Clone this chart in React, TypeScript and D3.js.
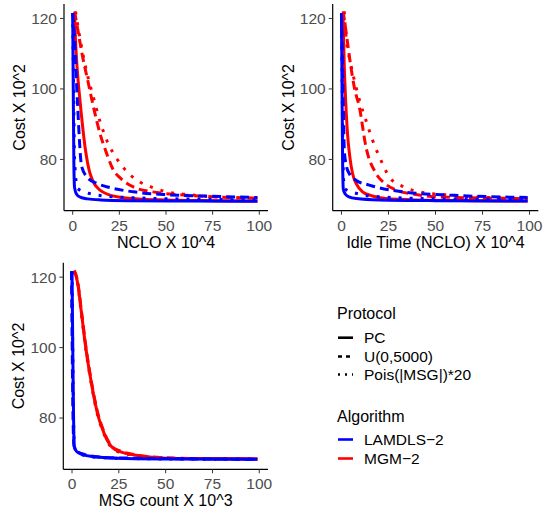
import React from "react";
import * as d3 from "d3";

// ---------- DATA ----------
const xTicks = [0, 25, 50, 75, 100];
const yTicks = [80, 100, 120];
const protocols = ["PC", "U(0,5000)", "Pois(|MSG|)*20"];
const algorithms = ["LAMDLS\u22122", "MGM\u22122"];
const panelTitles = ["NCLO X 10^4", "Idle Time (NCLO) X 10^4", "MSG count X 10^3"];

// Panel 1: NCLO
const nclo_lam_pc_x = [0, 0.3, 0.6, 1, 2, 4, 8, 15, 30, 60, 99];
const nclo_lam_pc_y = [121.5, 100, 80, 72, 70.2, 69.3, 68.8, 68.5, 68.3, 68.2, 68.1];
const nclo_lam_u_x = [0, 1, 2.5, 4.8, 8, 12.9, 20, 32.5, 50, 70, 99];
const nclo_lam_u_y = [121.5, 114, 96.8, 78, 74.8, 73.2, 72, 70.8, 70, 69.6, 69.2];
const nclo_lam_p_x = [0, 0.5, 1, 2.5, 8.4, 20, 40, 70, 99];
const nclo_lam_p_y = [121.5, 100, 80, 71.8, 70.4, 69.5, 69, 68.7, 68.5];
const nclo_mgm_pc_x = [1, 1.5, 2.5, 3.9, 6.6, 9.3, 14.6, 23.6, 35, 50, 75, 99];
const nclo_mgm_pc_y = [121.5, 114, 105, 96.8, 83.6, 76, 71.3, 69.4, 68.8, 68.5, 68.3, 68.2];
const nclo_mgm_u_x = [1, 3, 5, 8.4, 11.5, 14.6, 18, 21.8, 26, 32.5, 45, 59.3, 80, 99];
const nclo_mgm_u_y = [122, 116, 110, 101.6, 94, 87.4, 82, 77, 74.5, 72.2, 70.6, 69.9, 69.3, 69];
const nclo_mgm_p_x = [1.5, 4, 7, 11, 14.5, 18.2, 21.5, 25.4, 30, 36, 43, 50.4, 62, 77, 99];
const nclo_mgm_p_y = [122, 114, 106, 97.8, 91, 85.5, 82, 78.9, 76, 73.6, 72, 70.8, 70, 69.4, 69];

// Panel 2: Idle time
const idle_lam_pc_x = [0, 0.3, 0.6, 1, 2, 4, 8, 20, 50, 99];
const idle_lam_pc_y = [121.5, 100, 80, 71.5, 70.2, 69.4, 68.9, 68.5, 68.3, 68.2];
const idle_lam_u_x = [0, 0.5, 1, 1.5, 2.5, 4.1, 7.7, 14.8, 32.7, 60, 99];
const idle_lam_u_y = [121.5, 108, 95, 82.6, 78.5, 76, 74.1, 72.7, 70.8, 69.8, 69.2];
const idle_lam_p_x = [0, 0.4, 0.8, 1.5, 7.7, 20, 45, 99];
const idle_lam_p_y = [121.5, 100, 80, 71.8, 70.4, 69.4, 68.9, 68.6];
const idle_mgm_pc_x = [0.8, 1.5, 2.3, 3.2, 4.5, 5.9, 8, 11.2, 16, 23.7, 40, 70, 99];
const idle_mgm_pc_y = [121.5, 106.3, 96, 87.4, 80.5, 76, 73, 70.8, 69.7, 68.9, 68.5, 68.3, 68.2];
const idle_mgm_u_x = [0.9, 2.5, 5, 7, 9.5, 13, 18.4, 23, 29, 38, 50.5, 70, 99];
const idle_mgm_u_y = [122, 116, 106.3, 100, 94.9, 83.6, 76, 73.2, 71.3, 70.2, 69.4, 69.1, 68.9];
const idle_mgm_p_x = [1.5, 2.3, 5, 7.7, 10, 13, 16.5, 20.2, 25.5, 32, 41.6, 55, 68, 85, 99];
const idle_mgm_p_y = [122, 115.7, 107, 100.6, 96, 91.1, 85.5, 80.7, 75, 72.5, 70.8, 70, 69.4, 69.1, 69];

// Panel 3: MSG count
const msg_lam_pc_x = [0, 0.3, 0.7, 1.2, 2.5, 5.7, 12, 23.6, 50, 99];
const msg_lam_pc_y = [121.7, 105, 85, 71.9, 70.5, 69.6, 69, 68.6, 68.4, 68.3];
const msg_lam_u_x = [-0.3, 0, 0.4, 1, 2.5, 5.7, 12, 23.6, 50, 99];
const msg_lam_u_y = [121.7, 105, 85, 72.3, 70.7, 69.8, 69.1, 68.7, 68.5, 68.3];
const msg_lam_p_x = [0, 0.3, 0.7, 1.3, 2.6, 5.8, 12, 23.6, 50, 99];
const msg_lam_p_y = [121.7, 104, 84, 71.8, 70.4, 69.5, 68.9, 68.6, 68.4, 68.3];
const msg_mgm_pc_x = [1.2, 3, 5, 7.5, 10, 12, 14, 16.4, 19, 21.8, 26, 32.5, 40, 50.4, 70, 99];
const msg_mgm_pc_y = [121.7, 118.4, 110, 99.4, 91, 85.2, 80.5, 76.7, 73.5, 71.5, 70.4, 69.6, 69, 68.6, 68.5, 68.4];
const msg_mgm_u_x = [1.2, 3, 5, 7.5, 10, 12, 14, 16.4, 19, 21.8, 26, 32.5, 40, 50.4, 70, 99];
const msg_mgm_u_y = [121.9, 118.8, 110.5, 99.8, 91.4, 85.6, 80.9, 77, 73.8, 71.7, 70.6, 69.7, 69.1, 68.7, 68.5, 68.4];
const msg_mgm_p_x = [1.2, 3, 5, 7.5, 10, 12, 14, 16.4, 19, 21.8, 26, 32.5, 40, 50.4, 70, 99];
const msg_mgm_p_y = [121.5, 118, 109.6, 99, 90.6, 84.8, 80.1, 76.4, 73.2, 71.3, 70.2, 69.5, 68.9, 68.6, 68.5, 68.4];

// ---------- STYLES ----------
const colors = ["#0000FF", "#FF0000"];
const dashes = ["none", "9,5", "3,8"];
const FONT = "'Liberation Sans', Arial, Helvetica, sans-serif";

type Series = { alg: number; proto: number; xs: number[]; ys: number[] };

const panels: { title: string; box: { l: number; r: number; t: number; b: number }; series: Series[] }[] = [
  {
    title: panelTitles[0],
    box: { l: 64, r: 268, t: 4, b: 210.7 },
    series: [
      { alg: 1, proto: 0, xs: nclo_mgm_pc_x, ys: nclo_mgm_pc_y },
      { alg: 1, proto: 1, xs: nclo_mgm_u_x, ys: nclo_mgm_u_y },
      { alg: 1, proto: 2, xs: nclo_mgm_p_x, ys: nclo_mgm_p_y },
      { alg: 0, proto: 0, xs: nclo_lam_pc_x, ys: nclo_lam_pc_y },
      { alg: 0, proto: 1, xs: nclo_lam_u_x, ys: nclo_lam_u_y },
      { alg: 0, proto: 2, xs: nclo_lam_p_x, ys: nclo_lam_p_y },
    ],
  },
  {
    title: panelTitles[1],
    box: { l: 332.7, r: 538.3, t: 4, b: 210.7 },
    series: [
      { alg: 1, proto: 0, xs: idle_mgm_pc_x, ys: idle_mgm_pc_y },
      { alg: 1, proto: 1, xs: idle_mgm_u_x, ys: idle_mgm_u_y },
      { alg: 1, proto: 2, xs: idle_mgm_p_x, ys: idle_mgm_p_y },
      { alg: 0, proto: 0, xs: idle_lam_pc_x, ys: idle_lam_pc_y },
      { alg: 0, proto: 1, xs: idle_lam_u_x, ys: idle_lam_u_y },
      { alg: 0, proto: 2, xs: idle_lam_p_x, ys: idle_lam_p_y },
    ],
  },
  {
    title: panelTitles[2],
    box: { l: 63.3, r: 268, t: 262.7, b: 469.3 },
    series: [
      { alg: 1, proto: 0, xs: msg_mgm_pc_x, ys: msg_mgm_pc_y },
      { alg: 1, proto: 1, xs: msg_mgm_u_x, ys: msg_mgm_u_y },
      { alg: 1, proto: 2, xs: msg_mgm_p_x, ys: msg_mgm_p_y },
      { alg: 0, proto: 0, xs: msg_lam_pc_x, ys: msg_lam_pc_y },
      { alg: 0, proto: 1, xs: msg_lam_u_x, ys: msg_lam_u_y },
      { alg: 0, proto: 2, xs: msg_lam_p_x, ys: msg_lam_p_y },
    ],
  },
];

function Panel({ p }: { p: (typeof panels)[number] }) {
  const { l, r, t, b } = p.box;
  const w = r - l;
  const x = d3.scaleLinear().domain([-4.66, 104.66]).range([l, r]);
  const y = d3.scaleLinear().domain([65.45, 124.1]).range([b, t]);
  const line = d3
    .line<[number, number]>()
    .x((d) => x(d[0]))
    .y((d) => y(d[1]))
    .curve(d3.curveMonotoneX);
  const mkPts = (s: Series) => s.xs.map((xv, i) => [xv, s.ys[i]] as [number, number]);
  const lineY = d3
    .line<[number, number]>()
    .x((d) => x(d[0]))
    .y((d) => y(d[1]))
    .curve(d3.curveMonotoneY);
  return (
    <g>
      {p.series.map((s, i) => {
        const pts = mkPts(s);
        // use monotone in x; fall back for non-monotone x
        const mono = pts.every((d, k) => k === 0 || d[0] > pts[k - 1][0]);
        return (
          <path
            key={i}
            d={(mono ? line : lineY)(pts) || ""}
            fill="none"
            stroke={colors[s.alg]}
            strokeWidth={3}
            strokeDasharray={dashes[s.proto]}
            strokeLinecap="butt"
            strokeLinejoin="round"
          />
        );
      })}
      {/* axes */}
      <line x1={l} x2={r} y1={b} y2={b} stroke="#000" strokeWidth={1.2} />
      <line x1={l} x2={l} y1={t} y2={b} stroke="#000" strokeWidth={1.2} />
      {xTicks.map((v) => (
        <g key={"x" + v}>
          <line x1={x(v)} x2={x(v)} y1={b} y2={b + 4} stroke="#333" strokeWidth={1} />
          <text x={x(v)} y={b + 14.5} dy="0.35em" textAnchor="middle" fontSize={15.5} fill="#4D4D4D" fontFamily={FONT}>
            {v}
          </text>
        </g>
      ))}
      {yTicks.map((v) => (
        <g key={"y" + v}>
          <line x1={l - 4} x2={l} y1={y(v)} y2={y(v)} stroke="#333" strokeWidth={1} />
          <text x={l - 7} y={y(v)} dy="0.35em" textAnchor="end" fontSize={15.5} fill="#4D4D4D" fontFamily={FONT}>
            {v}
          </text>
        </g>
      ))}
      <text x={l + w / 2} y={b + 37} textAnchor="middle" fontSize={16} fill="#000" fontFamily={FONT}>
        {p.title}
      </text>
      <text
        transform={`translate(${l - 39},${(t + b) / 2}) rotate(-90)`}
        textAnchor="middle"
        fontSize={16}
        fill="#000"
        fontFamily={FONT}
      >
        Cost X 10^2
      </text>
    </g>
  );
}

export default function App() {
  const lx = 338;
  const keyW = 15;
  const tx = 364;
  const protoY = [337.7, 356.5, 374.5];
  const algY = [439.5, 458.5];
  return (
    <svg width={543} height={516} style={{ display: "block", position: "absolute", left: 0, top: 0 }}>
      <rect width={543} height={516} fill="#fff" />
      {panels.map((p, i) => (
        <Panel key={i} p={p} />
      ))}
      {/* legend */}
      <text x={337} y={313} dy="0.35em" fontSize={16} fontFamily={FONT} fill="#000">
        Protocol
      </text>
      {protocols.map((name, i) => (
        <g key={name}>
          <line
            x1={lx}
            x2={lx + keyW}
            y1={protoY[i]}
            y2={protoY[i]}
            stroke="#000"
            strokeWidth={2.6}
            strokeDasharray={i === 0 ? "none" : i === 1 ? "4,4" : "2,5"}
          />
          <text x={tx} y={protoY[i]} dy="0.35em" fontSize={15.5} fontFamily={FONT} fill="#000">
            {name}
          </text>
        </g>
      ))}
      <text x={337} y={416} dy="0.35em" fontSize={16} fontFamily={FONT} fill="#000">
        Algorithm
      </text>
      {algorithms.map((name, i) => (
        <g key={name}>
          <line x1={lx} x2={lx + keyW} y1={algY[i]} y2={algY[i]} stroke={colors[i]} strokeWidth={2.6} />
          <text x={tx} y={algY[i]} dy="0.35em" fontSize={15.5} fontFamily={FONT} fill="#000">
            {name}
          </text>
        </g>
      ))}
    </svg>
  );
}
